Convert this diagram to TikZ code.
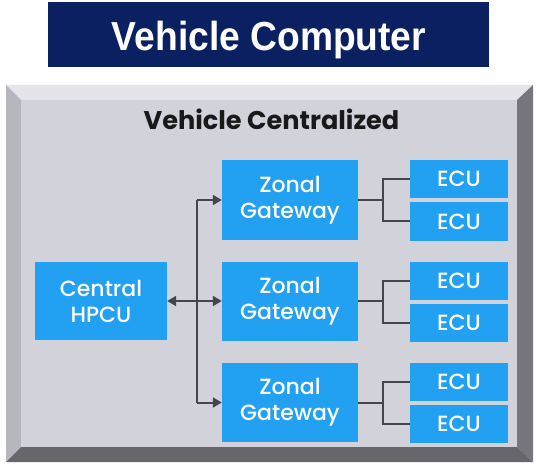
\documentclass[tikz,border=0pt]{standalone}
\usepackage{fontspec}
\setmainfont{Liberation Sans}
\newfontfamily\gfont{Poppins Medium}
\newfontfamily\hfont{Poppins}
\usetikzlibrary{arrows.meta}
\definecolor{navy}{HTML}{0B2060}
\definecolor{boxblue}{HTML}{22A0F2}
\definecolor{panel}{HTML}{D2D2DA}
\definecolor{bevtop}{HTML}{E4E4EA}
\definecolor{bevleft}{HTML}{B6B6BE}
\definecolor{bevright}{HTML}{76767C}
\definecolor{bevbottom}{HTML}{66666C}
\definecolor{wire}{HTML}{45454D}
\tikzset{
  blk/.style={fill=boxblue, text=white, align=center, inner sep=0pt,
    font=\gfont\fontsize{22}{26}\selectfont},
  hub/.style={blk, minimum width=132pt, minimum height=78pt},
  gw/.style={blk, minimum width=136pt, minimum height=79pt},
  ecu/.style={blk, minimum width=98pt, minimum height=38pt},
  wireline/.style={draw=wire, line width=2pt},
  arr/.style={wireline, -{Triangle[length=9pt,width=10pt]}},
  darr/.style={wireline, {Triangle[length=9pt,width=10pt]}-{Triangle[length=9pt,width=10pt]}},
}
\begin{document}
\begin{tikzpicture}[x=1pt,y=-1pt]
\useasboundingbox (0,0) rectangle (538,465);
% title banner
\fill[navy] (48,2) rectangle (489,67);
\node[text=white, font=\bfseries\fontsize{37.2}{40}\selectfont, anchor=base, inner sep=0pt] (title) at (269,51) {\scalebox{1}[1.09]{Vehicle Computer}};
% bevelled frame
\fill[bevtop] (6,85) -- (533,85) -- (517,100) -- (21,100) -- cycle;
\fill[bevleft] (6,85) -- (21,100) -- (21,447) -- (6,462) -- cycle;
\fill[bevright] (533,85) -- (533,462) -- (517,447) -- (517,100) -- cycle;
\fill[bevbottom] (6,462) -- (533,462) -- (517,447) -- (21,447) -- cycle;
\fill[panel] (21,100) rectangle (517,447);
\node[font=\hfont\bfseries\fontsize{25.6}{28}\selectfont, text=black!90, anchor=base, inner sep=0pt] (head) at (271.5,130) {Vehicle Centralized};
% blocks
\node[hub] (hpcu) at (101,301) {Central\\HPCU};
\node[gw] (gw1) at (290,200) {Zonal\\Gateway};
\node[gw] (gw2) at (290,301) {Zonal\\Gateway};
\node[gw] (gw3) at (290,402.5) {Zonal\\Gateway};
\node[ecu] (e1a) at (459,179) {ECU};
\node[ecu] (e1b) at (459,221.5) {ECU};
\node[ecu] (e2a) at (459,281) {ECU};
\node[ecu] (e2b) at (459,323) {ECU};
\node[ecu] (e3a) at (459,381.5) {ECU};
\node[ecu] (e3b) at (459,423.5) {ECU};
% hub to gateways
\coordinate (bus) at (197,0);
\draw[darr] (hpcu.east) -- (gw2.west);
\draw[wireline] (gw1.west -| bus) -- (gw3.west -| bus);
\draw[arr] (gw1.west -| bus) -- (gw1.west);
\draw[arr] (gw3.west -| bus) -- (gw3.west);
% gateways to ECUs
\coordinate (split) at (383,0);
\foreach \g/\a/\b in {gw1/e1a/e1b, gw2/e2a/e2b, gw3/e3a/e3b}{
  \draw[wireline] (\g.east) -- (\g.east -| split);
  \draw[wireline] (\a.west) -- (\a.west -| split) -- (\b.west -| split) -- (\b.west);
}
\end{tikzpicture}
\end{document}
